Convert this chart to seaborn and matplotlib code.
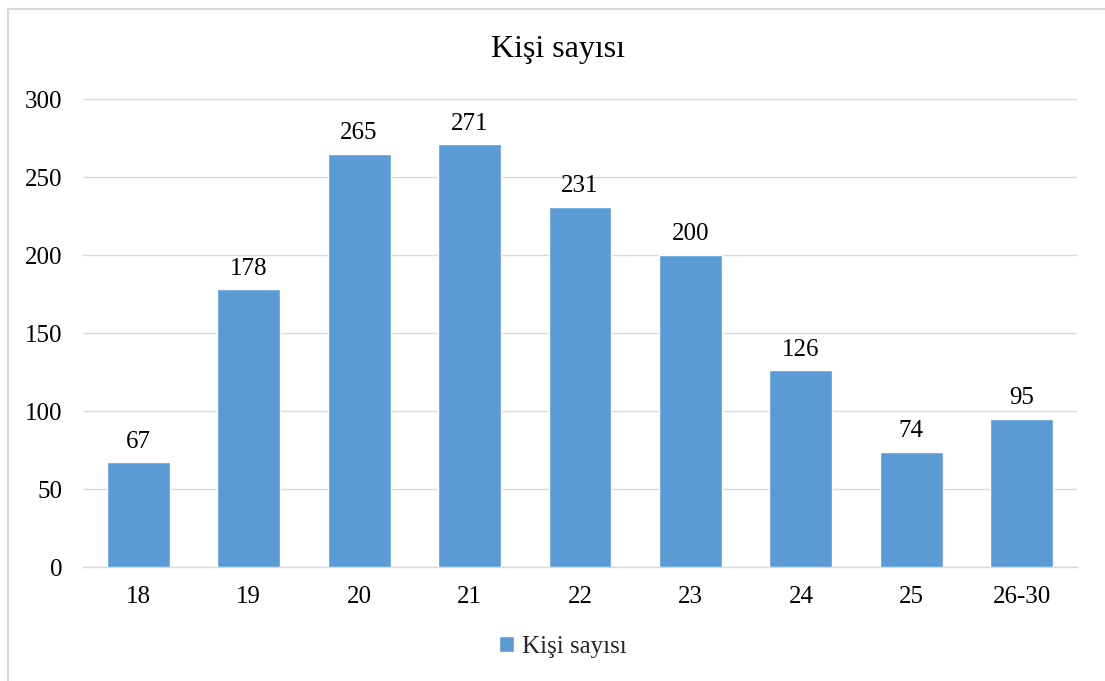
import matplotlib
matplotlib.use("Agg")
import matplotlib.pyplot as plt
from matplotlib.patches import Rectangle
import seaborn as sns
import pandas as pd

categories = ["18", "19", "20", "21", "22", "23", "24", "25", "26-30"]
values = [67, 178, 265, 271, 231, 200, 126, 74, 95]
series_name = "Kişi sayısı"

sns.set_theme(style="white")
plt.rcParams['font.family'] = ['Liberation Serif', 'DejaVu Serif']

df = pd.DataFrame({"cat": categories, "val": values})

fig = plt.figure(figsize=(11.05, 6.81), dpi=100)
ax = fig.add_axes([83/1105, 114/681, (1077-83)/1105, (567-99)/681])

color = "#5B9BD5"
sns.barplot(data=df, x="cat", y="val", color=color, saturation=1, width=0.57, ax=ax, zorder=3, label=series_name)

ax.set_ylim(0, 300)
ax.set_yticks(range(0, 301, 50))
ax.set_xlim(-0.5, len(categories) - 0.5)
ax.yaxis.grid(True, color="#D9D9D9", linewidth=1.0, zorder=0)
ax.set_axisbelow(True)
for s in ["top", "right", "left"]:
    ax.spines[s].set_visible(False)
ax.spines["bottom"].set_color("#D9D9D9")
ax.spines["bottom"].set_linewidth(1.0)
ax.tick_params(axis="both", length=0, labelsize=18, colors="black")
ax.tick_params(axis="y", pad=15)
ax.tick_params(axis="x", pad=14)
ax.set_xlabel("")
ax.set_ylabel("")

for c in ax.containers:
    ax.bar_label(c, labels=[str(v) for v in values], padding=7, fontsize=18, color="black")

fig.text(558 / 1105, 1 - 50/681, series_name, ha="center", va="center", fontsize=23, color="black")

leg = ax.legend(loc="center", bbox_to_anchor=(563/1105, 1 - 647/681), bbox_transform=fig.transFigure,
                frameon=False, fontsize=18, handlelength=0.6, handleheight=0.6, handletextpad=0.3)

fig.patches.append(Rectangle((8/1105, -0.5), 1.5, 1.5 - 9/681, transform=fig.transFigure,
                             fill=False, edgecolor="#D9D9D9", linewidth=1.5))

fig.savefig("out.png", dpi=100)
